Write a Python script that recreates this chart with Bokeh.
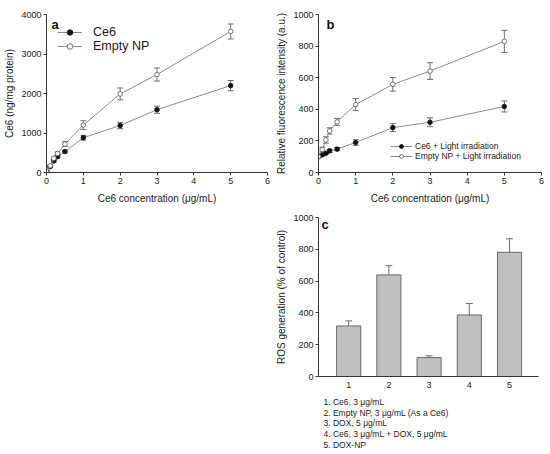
from bokeh.plotting import figure
from bokeh.models import (ColumnDataSource, Whisker, TeeHead, Label, FixedTicker,
                          Range1d, Legend, LegendItem, Spacer)
from bokeh.layouts import row, column
from bokeh.embed import file_html
from bokeh.resources import INLINE

# ---------------- data ----------------
conc = [0, 0.1, 0.2, 0.3, 0.5, 1, 2, 3, 5]

a_ce6 = [40, 150, 295, 400, 530, 880, 1190, 1590, 2200]
a_ce6_err = [10, 20, 25, 30, 30, 60, 80, 90, 130]
a_np = [40, 170, 360, 480, 720, 1200, 1990, 2480, 3570]
a_np_err = [10, 20, 30, 40, 60, 110, 150, 165, 190]

b_ce6 = [100, 112, 122, 137, 148, 190, 284, 318, 418]
b_ce6_err = [5, 8, 8, 10, 10, 18, 25, 28, 35]
b_np = [100, 145, 206, 263, 320, 430, 558, 642, 830]
b_np_err = [5, 15, 20, 20, 22, 38, 43, 53, 70]

c_cats = ["1", "2", "3", "4", "5"]
c_ros = [318, 639, 119, 387, 781]
c_ros_err = [32, 58, 11, 72, 85]
c_notes = ["1. Ce6, 3 \u03bcg/mL",
           "2. Empty NP, 3 \u03bcg/mL (As a Ce6)",
           "3. DOX, 5 \u03bcg/mL",
           "4. Ce6, 3 \u03bcg/mL + DOX, 5 \u03bcg/mL",
           "5. DOX-NP"]

x_ticks = [0, 1, 2, 3, 4, 5, 6]
a_yticks = [0, 1000, 2000, 3000, 4000]
b_yticks = [0, 200, 400, 600, 800, 1000]
c_yticks = [0, 200, 400, 600, 800, 1000]

FONT = "Liberation Sans"
TXT = "#1a1a1a"
AX = "#333333"
LINE = "#8a8a8a"
ERR = "#6e6e6e"


def style(p, xlabel, ylabel):
    p.xgrid.visible = False
    p.ygrid.visible = False
    p.outline_line_color = None
    p.background_fill_color = "white"
    p.border_fill_color = "white"
    for ax in (p.xaxis[0], p.yaxis[0]):
        ax.axis_line_color = AX
        ax.major_tick_line_color = AX
        ax.minor_tick_line_color = None
        ax.major_tick_in = 0
        ax.major_tick_out = 3
        ax.major_label_text_font = FONT
        ax.major_label_text_font_size = "9px"
        ax.major_label_text_color = TXT
        ax.axis_label_text_font = FONT
        ax.axis_label_text_font_size = "10px"
        ax.axis_label_text_font_style = "normal"
        ax.axis_label_text_color = TXT
        ax.major_label_standoff = 2
    p.xaxis.axis_label = xlabel
    p.yaxis.axis_label = ylabel
    p.xaxis.axis_label_standoff = 6
    p.yaxis.axis_label_standoff = 3


def add_series(p, x, y, err, filled, label, cap):
    src = ColumnDataSource(dict(x=x, y=y,
                                lo=[v - e for v, e in zip(y, err)],
                                hi=[v + e for v, e in zip(y, err)]))
    w = Whisker(base="x", lower="lo", upper="hi", source=src,
                line_color=ERR, line_width=1,
                upper_head=TeeHead(size=cap, line_color=ERR, line_width=1),
                lower_head=TeeHead(size=cap, line_color=ERR, line_width=1))
    p.add_layout(w)
    l = p.line("x", "y", source=src, line_color=LINE, line_width=1)
    if filled:
        s = p.scatter("x", "y", source=src, size=4.6, fill_color="#111111",
                      line_color="#111111", line_width=0.8)
    else:
        s = p.scatter("x", "y", source=src, size=4.6, fill_color="white",
                      line_color="#666666", line_width=0.9)
    return LegendItem(label=label, renderers=[l, s])


def panel_label(p, text, x, y):
    p.add_layout(Label(x=x, y=y, x_units="screen", y_units="screen", text=text,
                       text_font=FONT, text_font_size="13px",
                       text_font_style="bold", text_color="#111111",
                       text_baseline="middle", text_align="left"))


# ---------------- panel a ----------------
pa = figure(width=270, height=210, output_backend="svg", toolbar_location=None,
            x_range=Range1d(0, 6), y_range=Range1d(0, 4000),
            min_border_left=46, min_border_right=3, min_border_top=14,
            min_border_bottom=38)
style(pa, "Ce6 concentration (\u03bcg/mL)", "Ce6 (ng/mg protein)")
pa.xaxis.ticker = FixedTicker(ticks=x_ticks)
pa.yaxis.ticker = FixedTicker(ticks=a_yticks)
ia1 = add_series(pa, conc, a_ce6, a_ce6_err, True, "Ce6", 6)
ia2 = add_series(pa, conc, a_np, a_np_err, False, "Empty NP", 6)
lega = Legend(items=[ia1, ia2], location=(11, 119), orientation="vertical",
              label_text_font=FONT, label_text_font_size="12.5px",
              label_text_color=TXT, glyph_width=25, glyph_height=14,
              label_height=14, label_standoff=11, spacing=0, padding=0,
              margin=0, border_line_color=None, background_fill_alpha=0)
pa.add_layout(lega)
panel_label(pa, "a", 5, 148)

# ---------------- panel b ----------------
pb = figure(width=280, height=210, output_backend="svg", toolbar_location=None,
            x_range=Range1d(0, 6), y_range=Range1d(0, 1000),
            min_border_left=48, min_border_right=9, min_border_top=14,
            min_border_bottom=38)
style(pb, "Ce6 concentration (\u03bcg/mL)", "Relative fluorescence intensity (a.u.)")
pb.xaxis.ticker = FixedTicker(ticks=x_ticks)
pb.yaxis.ticker = FixedTicker(ticks=b_yticks)
ib1 = add_series(pb, conc, b_ce6, b_ce6_err, True, "Ce6 + Light irradiation", 6)
ib2 = add_series(pb, conc, b_np, b_np_err, False, "Empty NP + Light irradiation", 6)
legb = Legend(items=[ib1, ib2], location=(72, 11), orientation="vertical",
              label_text_font=FONT, label_text_font_size="8.5px",
              label_text_color=TXT, glyph_width=22, glyph_height=10,
              label_height=10, label_standoff=3, spacing=0, padding=0,
              margin=0, border_line_color=None, background_fill_alpha=0)
pb.add_layout(legb)
panel_label(pb, "b", 8, 148)

# ---------------- panel c ----------------
pos = list(range(1, len(c_cats) + 1))
pc = figure(width=280, height=183, output_backend="svg", toolbar_location=None,
            x_range=Range1d(0.25, 5.72), y_range=Range1d(0, 1000),
            min_border_left=48, min_border_right=12, min_border_top=7,
            min_border_bottom=17)
style(pc, "", "ROS generation (% of control)")
pc.xaxis.axis_label = None
pc.xaxis.ticker = FixedTicker(ticks=pos)
pc.xaxis.major_label_overrides = {p_: c for p_, c in zip(pos, c_cats)}
pc.xaxis.major_tick_out = 0
pc.xaxis.major_label_standoff = 5
pc.yaxis.ticker = FixedTicker(ticks=c_yticks)
srcc = ColumnDataSource(dict(x=pos, top=c_ros,
                             hi=[v + e for v, e in zip(c_ros, c_ros_err)]))
pc.add_layout(Whisker(base="x", lower="top", upper="hi", source=srcc,
                      line_color=ERR, line_width=1,
                      upper_head=TeeHead(size=7, line_color=ERR, line_width=1),
                      lower_head=None))
pc.vbar(x="x", top="top", bottom=0, width=0.6, source=srcc,
        fill_color="#c0c0c0", line_color="#6a6a6a", line_width=1)
panel_label(pc, "c", 3, 152)

# ---------------- notes under panel c ----------------
# (its frame is aligned with panel c's frame by the column layout)
pn = figure(width=280, height=61, output_backend="svg", toolbar_location=None,
            x_range=Range1d(0, 1), y_range=Range1d(0, 1), min_border=0,
            x_axis_location=None, y_axis_location=None)
pn.grid.visible = False
pn.outline_line_color = None
pn.border_fill_color = "white"
for i, t in enumerate(c_notes):
    pn.add_layout(Label(x=5, y=52.3 - 10.6 * i, x_units="screen", y_units="screen",
                        text=t, text_font=FONT, text_font_size="8.5px",
                        text_color=TXT, text_baseline="middle", text_align="left"))

layout = column(row(pa, pb), row(Spacer(width=270, height=244), column(pc, pn)))
open("out.html", "w").write(file_html(layout, INLINE))
